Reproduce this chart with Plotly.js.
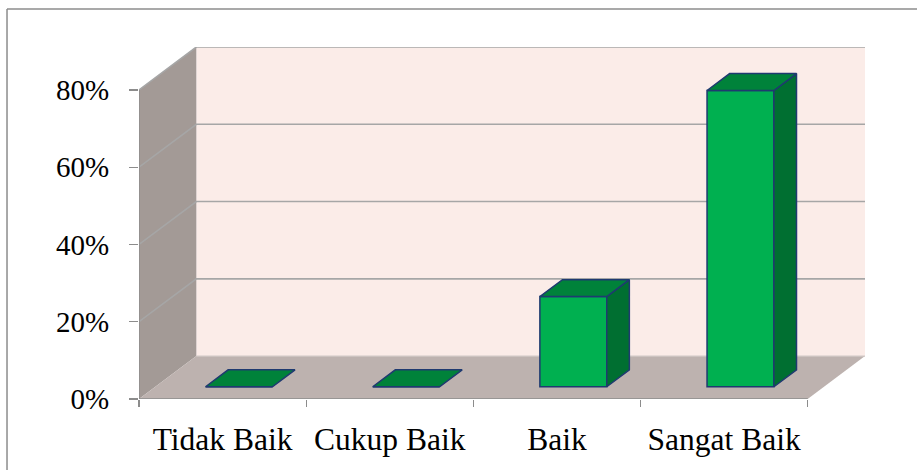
<!DOCTYPE html>
<html><head><meta charset="utf-8">
<script src="https://cdn.plot.ly/plotly-3.0.1.min.js"></script>
<style>html,body{margin:0;padding:0;background:#fff;} #chart{width:917px;height:470px;}</style>
</head><body><div id="chart"></div>
<script>
// ---- data ----
const categories = ['Tidak Baik', 'Cukup Baik', 'Baik', 'Sangat Baik'];
const percentages = [0, 0, 23.33, 76.67];
const yTickValues = [0, 20, 40, 60, 80];
const yTickLabels = ['0%', '20%', '40%', '60%', '80%'];

// ---- 3D projection style (axis units) ----
const DX = 0.343, DY = 11.1;   // full depth offset
const Z1 = 0.286, Z2 = 0.68;   // bar front / back depth
const HALF = 0.2;              // half bar width
const X0 = -0.5, X1 = categories.length - 0.5;
const YTOP = yTickValues[yTickValues.length - 1];

function P(x, y, z) { return [x + z * DX, y + z * DY]; }
function closed(pts) { return 'M' + pts.map(p => p[0] + ',' + p[1]).join('L') + 'Z'; }
function open(pts) { return 'M' + pts.map(p => p[0] + ',' + p[1]).join('L'); }

const xs = categories.map((c, i) => i);
const serif = 'Liberation Serif, Times New Roman, serif';
const gridColor = '#a6a6a6';
const outline = '#1f3a70';

// walls
const shapes = [
  {type: 'path', xref: 'x', yref: 'y', layer: 'below', fillcolor: '#fbece8', line: {width: 0},
   path: closed([P(X0, 0, 1), P(X1, 0, 1), P(X1, YTOP, 1), P(X0, YTOP, 1)])},
  {type: 'path', xref: 'x', yref: 'y', layer: 'below', fillcolor: '#a39a96', line: {width: 0},
   path: closed([P(X0, 0, 0), P(X0, 0, 1), P(X0, YTOP, 1), P(X0, YTOP, 0)])},
  {type: 'path', xref: 'x', yref: 'y', layer: 'below', fillcolor: '#bdb2af', line: {width: 0},
   path: closed([P(X0, 0, 0), P(X1, 0, 0), P(X1, 0, 1), P(X0, 0, 1)])}
];
shapes.push({type: 'path', xref: 'x', yref: 'y', layer: 'below', line: {color: '#d2c8c6', width: 1.2},
  path: open([P(X0, 0, 1), P(X1, 0, 1)])});
yTickValues.slice(1).forEach(v => {
  shapes.push({type: 'path', xref: 'x', yref: 'y', layer: 'below', line: {color: gridColor, width: 1.6},
    path: open([P(X0, v, 0), P(X0, v, 1), P(X1, v, 1)])});
});
// axis lines on the front plane
shapes.push({type: 'line', xref: 'x', yref: 'y', layer: 'below', line: {color: '#8c8c8c', width: 1.3},
  x0: X0, y0: 0, x1: X1, y1: 0});
shapes.push({type: 'line', xref: 'x', yref: 'y', layer: 'below', line: {color: '#8c8c8c', width: 1.3},
  x0: X0, y0: 0, x1: X0, y1: YTOP});
// outer chart border (only its top and left edges fall inside the picture)
shapes.push({type: 'line', xref: 'paper', yref: 'paper', layer: 'below', line: {color: '#8c8c8c', width: 1.5},
  x0: -0.1818, y0: 1.108, x1: 1.6, y1: 1.108});
shapes.push({type: 'line', xref: 'paper', yref: 'paper', layer: 'below', line: {color: '#8c8c8c', width: 1.5},
  x0: -0.1818, y0: 1.108, x1: -0.1818, y1: -0.6});

// bar faces
const topX = [], topY = [], sideX = [], sideY = [];
percentages.forEach((v, i) => {
  [P(i - HALF, v, Z1), P(i + HALF, v, Z1), P(i + HALF, v, Z2), P(i - HALF, v, Z2), P(i - HALF, v, Z1)]
    .forEach(p => { topX.push(p[0]); topY.push(p[1]); });
  topX.push(null); topY.push(null);
  if (v > 0) {
    [P(i + HALF, 0, Z1), P(i + HALF, 0, Z2), P(i + HALF, v, Z2), P(i + HALF, v, Z1), P(i + HALF, 0, Z1)]
      .forEach(p => { sideX.push(p[0]); sideY.push(p[1]); });
    sideX.push(null); sideY.push(null);
  }
});

const traces = [
  {type: 'bar', x: xs, y: percentages, base: Z1 * DY, width: 2 * HALF, offset: -HALF + Z1 * DX,
   marker: {color: '#00b050', line: {color: outline, width: 1.5}}, hoverinfo: 'skip', showlegend: false},
  {type: 'scatter', mode: 'lines', x: sideX, y: sideY, fill: 'toself', fillcolor: '#006f31',
   line: {color: outline, width: 1.5}, hoverinfo: 'skip', showlegend: false},
  {type: 'scatter', mode: 'lines', x: topX, y: topY, fill: 'toself', fillcolor: '#00823a',
   line: {color: outline, width: 1.5}, hoverinfo: 'skip', showlegend: false},
  {type: 'scatter', mode: 'markers', x: [0], y: [0], xaxis: 'x2', marker: {opacity: 0},
   hoverinfo: 'skip', showlegend: false}
];

const xRange = [X0, X1 + DX];
const layout = {
  width: 917, height: 470,
  margin: {l: 139, r: 52, t: 47, b: 71},
  paper_bgcolor: '#ffffff', plot_bgcolor: 'rgba(0,0,0,0)',
  showlegend: false,
  xaxis: {type: 'linear', range: xRange, tickvals: xs, ticktext: categories, ticks: '',
    showgrid: false, zeroline: false, showline: false, fixedrange: true,
    tickfont: {family: serif, size: 31.5, color: '#000'}, ticklabelstandoff: 18},
  xaxis2: {type: 'linear', overlaying: 'x', anchor: 'y', side: 'bottom', range: xRange,
    tickvals: [X0].concat(xs.map(i => i + 0.5)), ticktext: xs.map(() => '').concat(['']),
    ticks: 'outside', ticklen: 7, tickwidth: 1.3, tickcolor: '#8c8c8c',
    showgrid: false, zeroline: false, showline: false, showticklabels: false, fixedrange: true},
  yaxis: {range: [0, YTOP + DY], tickvals: yTickValues, ticktext: yTickLabels,
    ticks: 'outside', ticklen: 9, tickwidth: 1.3, tickcolor: '#8c8c8c',
    showgrid: false, zeroline: false, showline: false, fixedrange: true,
    tickfont: {family: serif, size: 29, color: '#000'}, ticklabelstandoff: 14},
  shapes: shapes,
  bargap: 0
};

Plotly.newPlot('chart', traces, layout, {displayModeBar: false, staticPlot: true});
</script>
</body></html>
